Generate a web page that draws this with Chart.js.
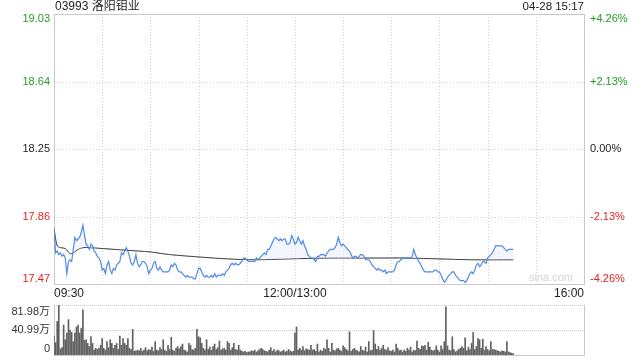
<!DOCTYPE html>
<html>
<head>
<meta charset="utf-8">
<script src="https://cdn.jsdelivr.net/npm/chart.js@4.4.0/dist/chart.umd.min.js"></script>
<style>
  html, body { margin: 0; padding: 0; background: #fff; }
  #wrap { position: relative; width: 640px; height: 360px; overflow: hidden; }
  canvas { position: absolute; left: 0; }
  #priceChart { top: 0; }
  #volChart { top: 300px; }
</style>
</head>
<body>
<div id="wrap">
  <canvas id="priceChart" width="640" height="300"></canvas>
  <canvas id="volChart" width="640" height="60"></canvas>
</div>
<script>
const stockTitle = '03993 洛阳钼业';
const stampText = '04-28 15:17';
const prevClose = 18.25;
const priceTicks = [19.03, 18.64, 18.25, 17.86, 17.47];
const pctTicks = ['+4.26%', '+2.13%', '0.00%', '-2.13%', '-4.26%'];
const timeLabels = ['09:30', '12:00/13:00', '16:00'];
const timeLabelMinutes = [0, 150, 330];
const volTicks = [81.98, 40.99, 0];
const volTickLabels = ['81.98万', '40.99万', '0'];

// one price per trading minute from 09:30
const prices = [
  17.79, 17.65, 17.66, 17.64, 17.65, 17.63, 17.64, 17.62, 17.53, 17.60,
  17.61, 17.60, 17.67, 17.74, 17.72, 17.73, 17.74, 17.77, 17.81, 17.75,
  17.70, 17.69, 17.67, 17.70, 17.69, 17.66, 17.65, 17.63, 17.62, 17.60,
  17.55, 17.56, 17.53, 17.58, 17.60, 17.55, 17.53, 17.56, 17.55, 17.58,
  17.59, 17.60, 17.65, 17.64, 17.66, 17.68, 17.66, 17.63, 17.59, 17.58,
  17.60, 17.64, 17.59, 17.57, 17.58, 17.60, 17.60, 17.59, 17.57, 17.53,
  17.55, 17.56, 17.59, 17.60, 17.56, 17.55, 17.57, 17.55, 17.54, 17.54,
  17.54, 17.54, 17.55, 17.58, 17.57, 17.59, 17.58, 17.55, 17.54, 17.54,
  17.53, 17.52, 17.51, 17.52, 17.51, 17.51, 17.51, 17.50, 17.50, 17.53,
  17.56, 17.56, 17.54, 17.52, 17.51, 17.52, 17.51, 17.51, 17.52, 17.51,
  17.53, 17.51, 17.52, 17.52, 17.52, 17.53, 17.52, 17.54, 17.55, 17.56,
  17.58, 17.59, 17.58, 17.59, 17.58, 17.58, 17.59, 17.60, 17.62, 17.62,
  17.61, 17.60, 17.60, 17.60, 17.60, 17.60, 17.62, 17.61, 17.62, 17.63,
  17.64, 17.65, 17.64, 17.67, 17.67, 17.69, 17.71, 17.73, 17.74, 17.73,
  17.72, 17.73, 17.72, 17.73, 17.73, 17.70, 17.70, 17.71, 17.75, 17.73,
  17.70, 17.71, 17.74, 17.72, 17.70, 17.72, 17.69, 17.67, 17.64, 17.63,
  17.62, 17.62, 17.61, 17.60, 17.63, 17.63, 17.64, 17.64, 17.64, 17.63,
  17.65, 17.66, 17.67, 17.67, 17.67, 17.68, 17.70, 17.74, 17.71, 17.69,
  17.70, 17.69, 17.68, 17.67, 17.66, 17.64, 17.62, 17.63, 17.63, 17.62,
  17.63, 17.64, 17.64, 17.63, 17.61, 17.61, 17.61, 17.60, 17.58, 17.57,
  17.56, 17.55, 17.56, 17.55, 17.55, 17.54, 17.55, 17.53, 17.54, 17.54,
  17.54, 17.54, 17.55, 17.58, 17.60, 17.60, 17.61, 17.62, 17.62, 17.62,
  17.62, 17.62, 17.62, 17.63, 17.67, 17.64, 17.62, 17.60, 17.59, 17.57,
  17.55, 17.54, 17.54, 17.54, 17.54, 17.54, 17.54, 17.55, 17.55, 17.54,
  17.54, 17.52, 17.50, 17.48, 17.49, 17.51, 17.52, 17.53, 17.54, 17.54,
  17.52, 17.51, 17.50, 17.49, 17.49, 17.49, 17.48, 17.49, 17.51, 17.53,
  17.54, 17.53, 17.55, 17.58, 17.59, 17.57, 17.58, 17.60, 17.60, 17.59,
  17.62, 17.63, 17.64, 17.65, 17.67, 17.69, 17.69, 17.69, 17.69, 17.69,
  17.68, 17.67, 17.66, 17.67, 17.67, 17.67, 17.67
];

// average price line, read at a few minutes
const avgMinutes = [0, 2, 4, 7, 10, 12, 15, 18, 22, 30, 45, 60, 72, 92, 108, 125, 146, 170, 200, 220, 240, 260, 286];
const avgPrices = [17.79, 17.69, 17.68, 17.675, 17.645, 17.65, 17.67, 17.68, 17.68, 17.675, 17.665, 17.655, 17.64, 17.625, 17.615, 17.61, 17.615, 17.62, 17.62, 17.62, 17.615, 17.61, 17.61];

// volume per minute, 万股
const volumes = [
  31, 20, 55, 82, 10, 12, 49, 25, 36, 58, 41, 37, 22, 36, 46, 49, 36, 44, 74, 24,
  25, 19, 14, 30, 19, 8, 11, 9, 11, 16, 27, 11, 8, 22, 12, 25, 19, 11, 16, 19,
  9, 31, 16, 27, 19, 16, 27, 11, 9, 42, 6, 7, 8, 7, 11, 6, 8, 12, 7, 9,
  8, 13, 6, 22, 8, 7, 12, 9, 25, 8, 6, 16, 9, 29, 8, 6, 11, 14, 10, 14,
  18, 8, 7, 5, 19, 16, 9, 8, 11, 42, 30, 28, 19, 11, 8, 25, 9, 13, 8, 14,
  18, 9, 12, 23, 8, 10, 11, 8, 22, 19, 8, 12, 19, 9, 8, 16, 8, 6, 5, 6,
  4, 5, 5, 7, 6, 8, 5, 7, 9, 11, 9, 7, 6, 5, 8, 12, 6, 9, 5, 8,
  7, 5, 6, 8, 5, 6, 9, 7, 5, 6, 36, 46, 8, 11, 8, 14, 7, 10, 9, 8,
  16, 8, 9, 6, 18, 5, 8, 6, 11, 9, 25, 11, 5, 19, 8, 7, 10, 11, 8, 6,
  15, 12, 9, 7, 38, 6, 9, 11, 8, 7, 5, 14, 8, 7, 13, 5, 22, 7, 8, 40,
  18, 9, 14, 8, 11, 16, 9, 8, 12, 7, 6, 8, 5, 18, 11, 7, 8, 5, 8, 6,
  11, 8, 13, 5, 8, 7, 23, 11, 9, 15, 14, 16, 8, 21, 13, 8, 7, 8, 15, 8,
  5, 15, 9, 22, 79, 15, 8, 7, 30, 9, 5, 7, 9, 11, 14, 11, 28, 7, 13, 9,
  19, 37, 9, 14, 27, 25, 11, 26, 8, 14, 9, 7, 22, 9, 9, 8, 7, 6, 5, 7,
  6, 5, 22, 5, 4, 3, 2
];

const UP = '#22a022', DOWN = '#e52222', FLAT = '#222222';
const FONT = '"Liberation Sans", Arial, "Noto Sans CJK SC", sans-serif';

function dotted(ctx, x1, y1, x2, y2) {
  ctx.beginPath();
  ctx.moveTo(x1, y1);
  ctx.lineTo(x2, y2);
  ctx.stroke();
}

const priceDecor = {
  id: 'priceDecor',
  beforeDatasetsDraw(chart) {
    const { ctx, chartArea: a, scales: { x, y } } = chart;
    ctx.save();
    ctx.strokeStyle = '#d2d2d2';
    ctx.lineWidth = 1;
    ctx.setLineDash([1, 2]);
    priceTicks.forEach(v => {
      const py = Math.round(y.getPixelForValue(v)) + 0.5;
      dotted(ctx, a.left, py, a.right, py);
    });
    for (let m = 30; m < 330; m += 30) {
      const px = Math.round(x.getPixelForValue(m)) + 0.5;
      dotted(ctx, px, a.top, px, a.bottom);
    }
    ctx.setLineDash([]);
    ctx.strokeStyle = '#c8c8c8';
    ctx.strokeRect(Math.round(a.left) + 0.5, Math.round(a.top) + 0.5, Math.round(a.width), Math.round(a.height));
    ctx.restore();
  },
  afterDraw(chart) {
    const { ctx, chartArea: a, scales: { x, y } } = chart;
    ctx.save();
    ctx.font = '11px ' + FONT;
    ctx.textBaseline = 'middle';
    priceTicks.forEach((v, i) => {
      let py = y.getPixelForValue(v);
      py = Math.min(Math.max(py, a.top + 5), a.bottom - 5);
      ctx.fillStyle = v > prevClose ? UP : (v < prevClose ? DOWN : FLAT);
      ctx.textAlign = 'right';
      ctx.fillText(v.toFixed(2), a.left - 4, py);
      ctx.textAlign = 'left';
      ctx.fillText(pctTicks[i], a.right + 6, py);
    });
    ctx.fillStyle = '#222';
    ctx.font = '12px ' + FONT;
    ctx.textAlign = 'left';
    ctx.fillText(stockTitle, a.left + 1, 7);
    ctx.font = '11.5px ' + FONT;
    ctx.textAlign = 'right';
    ctx.fillText(stampText, a.right, 7);
    ctx.font = '12px ' + FONT;
    const aligns = ['left', 'center', 'right'];
    timeLabels.forEach((t, i) => {
      ctx.textAlign = aligns[i];
      ctx.fillText(t, x.getPixelForValue(timeLabelMinutes[i]), a.bottom + 10);
    });
    ctx.fillStyle = '#d4d4d4';
    ctx.font = '11px ' + FONT;
    ctx.textAlign = 'right';
    ctx.fillText('sina.com', a.right - 11, a.bottom - 6);
    ctx.restore();
  }
};

const volDecor = {
  id: 'volDecor',
  beforeDatasetsDraw(chart) {
    const { ctx, chartArea: a, scales: { y } } = chart;
    ctx.save();
    ctx.strokeStyle = '#cccccc';
    ctx.lineWidth = 1;
    ctx.setLineDash([1, 1]);
    volTicks.slice(0, 2).forEach(v => {
      const py = Math.round(y.getPixelForValue(v)) + 0.5;
      dotted(ctx, a.left, py, a.right, py);
    });
    ctx.setLineDash([]);
    ctx.strokeStyle = '#c8c8c8';
    const l = Math.round(a.left) + 0.5, r = Math.round(a.right) + 0.5, b = Math.round(a.bottom) + 0.5, t = Math.round(a.top);
    ctx.beginPath();
    ctx.moveTo(l, t); ctx.lineTo(l, b); ctx.lineTo(r, b); ctx.lineTo(r, t);
    ctx.stroke();
    ctx.restore();
  },
  afterDraw(chart) {
    const { ctx, chartArea: a, scales: { y } } = chart;
    ctx.save();
    ctx.font = '11px ' + FONT;
    ctx.textBaseline = 'middle';
    ctx.textAlign = 'right';
    ctx.fillStyle = '#333';
    volTicks.forEach((v, i) => {
      let py = y.getPixelForValue(v);
      py = Math.min(Math.max(py, a.top + 7), a.bottom - 6);
      ctx.fillText(volTickLabels[i], a.left - 4, py);
    });
    ctx.restore();
  }
};

const priceChart = new Chart(document.getElementById('priceChart'), {
  type: 'line',
  data: {
    datasets: [{
      data: prices.map((p, i) => ({ x: i, y: p })),
      borderColor: '#4f8ae6',
      borderWidth: 1.2,
      pointRadius: 0,
      tension: 0,
      fill: { target: 1, above: 'rgba(232,240,252,0.5)', below: 'rgba(0,0,0,0)' }
    }, {
      data: avgMinutes.map((m, i) => ({ x: m, y: avgPrices[i] })),
      borderColor: '#2b2b2b',
      borderWidth: 1,
      pointRadius: 0,
      tension: 0.3,
      fill: false
    }]
  },
  options: {
    responsive: false,
    animation: false,
    layout: { padding: { left: 54, right: 56, top: 14, bottom: 16 } },
    plugins: { legend: { display: false }, tooltip: { enabled: false } },
    scales: {
      x: { type: 'linear', display: false, min: 0, max: 330 },
      y: { type: 'linear', display: false, min: 17.47, max: 19.03 }
    }
  },
  plugins: [priceDecor]
});

const volChart = new Chart(document.getElementById('volChart'), {
  type: 'bar',
  data: {
    datasets: [{
      data: volumes.map((v, i) => ({ x: i, y: v })),
      backgroundColor: '#606060',
      barThickness: 1
    }]
  },
  options: {
    responsive: false,
    animation: false,
    layout: { padding: { left: 54, right: 56, top: 5, bottom: 5 } },
    plugins: { legend: { display: false }, tooltip: { enabled: false } },
    scales: {
      x: { type: 'linear', display: false, offset: false, min: 0, max: 330 },
      y: { type: 'linear', display: false, min: 0, max: 81.98 }
    }
  },
  plugins: [volDecor]
});
</script>
</body>
</html>
